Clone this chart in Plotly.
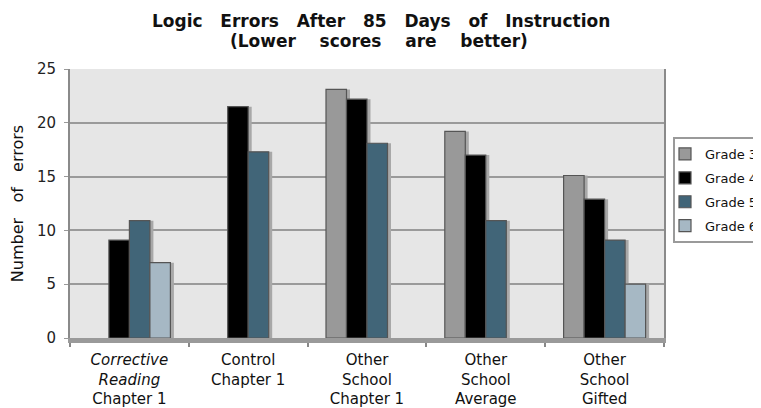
import plotly.graph_objects as go

categories = [
    "<i>Corrective</i><br><i>Reading</i><br>Chapter 1",
    "Control<br>Chapter 1",
    "Other<br>School<br>Chapter 1",
    "Other<br>School<br>Average",
    "Other<br>School<br>Gifted",
]
grade3 = [None, None, 23.1, 19.2, 15.1]
grade4 = [9.1, 21.5, 22.2, 17.0, 12.9]
grade5 = [10.9, 17.3, 18.1, 10.9, 9.1]
grade6 = [7.0, None, None, None, 5.0]
series_names = ["Grade 3", "Grade 4", "Grade 5", "Grade 6"]
series_values = [grade3, grade4, grade5, grade6]
colors = ["#999999", "#000000", "#416578", "#A6B8C4"]
title_line1 = ["Logic", "Errors", "After", "85", "Days", "of", "Instruction"]
title_line2 = ["(Lower", "scores", "are", "better)"]
y_title_words = ["Number", "of", "errors"]

# The page body has a default 8px margin: shift everything so the
# photographed 761x408 window matches the reference layout.
OFF = 8
W, H = 761 - OFF, 408 - OFF
PL, PR, PT, PB = 70, 664, 69, 338          # plot box in window pixels
L, T = PL - OFF, PT - OFF
R = W - (PR - OFF)
B = H - (PB - OFF)
plot_w = PR - PL
plot_h = PB - PT
bar_w = 20.5 / (plot_w / 5)
shadow_dx = 3.5 / (plot_w / 5)


def py(px):
    return (PB - px) / plot_h


def pxx(px):
    return (px - PL) / plot_w


fig = go.Figure()
# shadows first (drawn behind the bars)
for i, vals in enumerate(series_values):
    fig.add_trace(go.Bar(
        x=categories, y=vals, width=bar_w, offset=-2 * bar_w + i * bar_w + shadow_dx,
        marker=dict(color="#A8A8A8", line=dict(width=0)),
        showlegend=False, hoverinfo="skip"))
for i, (name, vals) in enumerate(zip(series_names, series_values)):
    fig.add_trace(go.Bar(
        x=categories, y=vals, name=name, width=bar_w, offset=-2 * bar_w + i * bar_w,
        legendgroup=name,
        marker=dict(color=colors[i], line=dict(color="#555555", width=1.2))))

font_family = "DejaVu Sans, Verdana, sans-serif"
nb = "\u00a0"

fig.add_annotation(
    text="<b>" + (nb * 3).join(title_line1) + "</b>",
    xref="paper", yref="paper", x=pxx(381), y=py(21), xanchor="center", yanchor="middle",
    showarrow=False, font=dict(size=17, family=font_family, color="#111111"))
fig.add_annotation(
    text="<b>" + (nb * 4).join(title_line2) + "</b>",
    xref="paper", yref="paper", x=pxx(379), y=py(41), xanchor="center", yanchor="middle",
    showarrow=False, font=dict(size=17, family=font_family, color="#111111"))

fig.update_layout(
    width=W, height=H,
    margin=dict(l=L, r=R, t=T, b=B, pad=0, autoexpand=False),
    barmode="overlay",
    paper_bgcolor="white",
    plot_bgcolor="#E6E6E6",
    font=dict(family=font_family, color="#111111"),
    xaxis=dict(
        showgrid=False, showline=True, linecolor="#9A9A9A", linewidth=5,
        ticks="outside", ticklen=4, tickcolor="#888888", tickwidth=2,
        tickson="boundaries", automargin=False, ticklabelstandoff=4,
        tickfont=dict(size=15, family=font_family, color="#111111"),
        range=[-0.5, 4.5]),
    yaxis=dict(
        range=[0, 25], tickvals=[0, 5, 10, 15, 20, 25],
        showgrid=True, gridcolor="#9A9A9A", gridwidth=1.5,
        showline=True, linecolor="#8A8A8A", linewidth=2, mirror=True,
        ticks="outside", ticklen=4, tickcolor="#999999", ticklabelstandoff=5,
        tickfont=dict(size=15, family=font_family, color="#222222"),
        zeroline=False, automargin=False,
        title=dict(text=(nb * 3).join(y_title_words),
                   font=dict(size=16, family=font_family, color="#111111"), standoff=10)),
    legend=dict(
        x=pxx(673), xanchor="left",
        y=py(137), yanchor="top",
        bgcolor="white", bordercolor="#9A9A9A", borderwidth=2,
        font=dict(size=13, family=font_family, color="#111111"),
        traceorder="grouped", itemwidth=30, tracegroupgap=4, indentation=-10),
    showlegend=True,
)
fig.write_html("out.html")
